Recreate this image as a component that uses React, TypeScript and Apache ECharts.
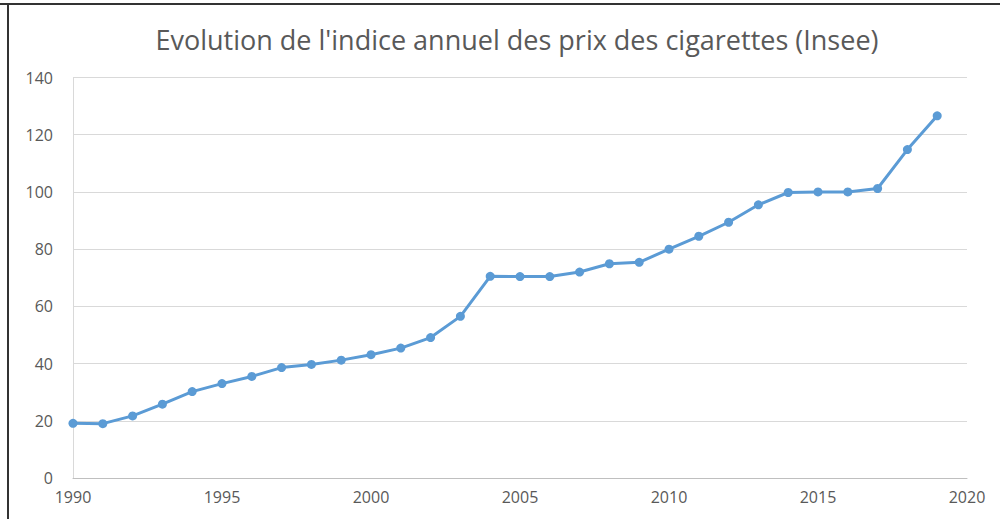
import React, { useEffect, useRef } from "react";
import * as echarts from "echarts";

const TITLE = "Evolution de l'indice annuel des prix des cigarettes (Insee)";
const years = [
  1990, 1991, 1992, 1993, 1994, 1995, 1996, 1997, 1998, 1999,
  2000, 2001, 2002, 2003, 2004, 2005, 2006, 2007, 2008, 2009,
  2010, 2011, 2012, 2013, 2014, 2015, 2016, 2017, 2018, 2019,
];
const indexValues = [
  19.1, 19.0, 21.7, 25.8, 30.2, 33.0, 35.5, 38.6, 39.7, 41.2,
  43.1, 45.4, 49.1, 56.5, 70.5, 70.4, 70.4, 72.0, 74.9, 75.4,
  80.0, 84.5, 89.4, 95.5, 99.8, 100.0, 100.0, 101.2, 114.8, 126.6,
];
const xMin = 1990;
const xMax = 2020;
const xStep = 5;
const yMin = 0;
const yMax = 140;
const yStep = 20;

const TEXT = "#595959";
const BLUE = "#5B9BD5";
const FONT = "'Open Sans', 'Noto Sans', sans-serif";

export default function App() {
  const ref = useRef<HTMLDivElement>(null);
  useEffect(() => {
    document.body.style.margin = "0";
    const chart = echarts.init(ref.current!, null, { renderer: "svg" });
    chart.setOption({
      animation: false,
      backgroundColor: "#ffffff",
      title: {
        text: TITLE,
        left: 512,
        textAlign: "center",
        top: 21,
        textStyle: { color: TEXT, fontSize: 27, fontWeight: "normal", fontFamily: FONT },
      },
      grid: { left: 73, right: 33, top: 77.5, bottom: 41, containLabel: false },
      xAxis: {
        type: "value",
        min: xMin,
        max: xMax,
        interval: xStep,
        axisLine: { show: true, lineStyle: { color: "#BFBFBF", width: 1 } },
        axisTick: { show: false },
        splitLine: { show: false },
        axisLabel: {
          color: TEXT,
          fontSize: 16,
          fontFamily: FONT,
          margin: 11,
          formatter: (v: number) => String(v),
        },
      },
      yAxis: {
        type: "value",
        min: yMin,
        max: yMax,
        interval: yStep,
        axisLine: { show: true, lineStyle: { color: "#D9D9D9", width: 1 } },
        axisTick: { show: false },
        splitLine: { show: true, lineStyle: { color: "#D9D9D9", width: 1 } },
        axisLabel: { color: TEXT, fontSize: 16, fontFamily: FONT, margin: 20 },
      },
      graphic: [
        { type: "line", shape: { x1: 0, y1: 4, x2: 1000, y2: 4 }, style: { stroke: "#333333", lineWidth: 2 } },
        { type: "line", shape: { x1: 8, y1: 4, x2: 8, y2: 519 }, style: { stroke: "#333333", lineWidth: 2 } },
      ],
      series: [
        {
          type: "line",
          data: years.map((y, i) => [y, indexValues[i]]),
          symbol: "circle",
          symbolSize: 9,
          lineStyle: { color: BLUE, width: 3 },
          itemStyle: { color: BLUE },
        },
      ],
    });
    return () => chart.dispose();
  }, []);
  return <div ref={ref} style={{ width: 1000, height: 519 }} />;
}
